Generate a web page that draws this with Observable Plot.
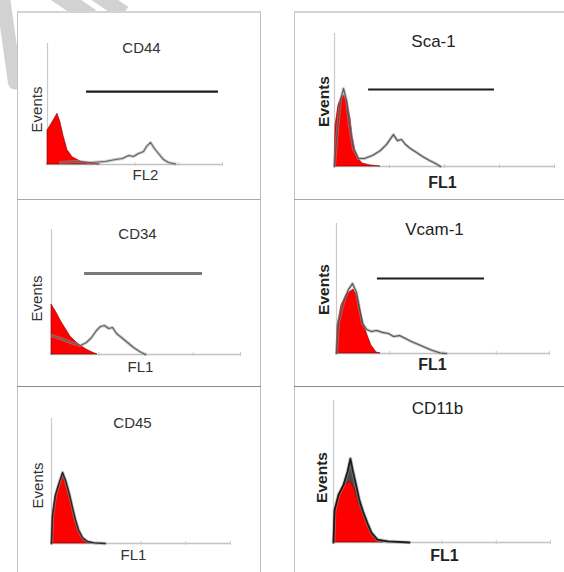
<!DOCTYPE html>
<html>
<head>
<meta charset="utf-8">
<script src="https://cdn.jsdelivr.net/npm/d3@7"></script>
<script src="https://cdn.jsdelivr.net/npm/@observablehq/plot@0.6"></script>
<style>
  html, body { margin: 0; padding: 0; background: #fff; }
  #root { position: relative; width: 564px; height: 572px; overflow: hidden; background: #fff;
          font-family: "Liberation Sans", Arial, sans-serif; }
  .box { position: absolute; box-sizing: border-box; }
  .wm { position: absolute; background: #d2d2d2; }
</style>
</head>
<body>
<div id="root"></div>
<script>
// ---------------- DATA ----------------
const markers  = ["CD44", "Sca-1", "CD34", "Vcam-1", "CD45", "CD11b"];
const channels = ["FL2", "FL1", "FL1", "FL1", "FL1", "FL1"];
const yLabel   = "Events";

// control (isotype) histograms – red filled
const cd44ControlX      = [0, 0, 2.9, 5.7, 7.4, 9.1, 11.4, 14.3, 18.9, 24.6, 30];
const cd44ControlCount  = [0, 28, 35, 42, 35, 24, 12, 6, 2.5, 1, 0];
const sca1ControlX      = [0, 0.5, 1.8, 3.2, 4.5, 5.9, 7.3, 8.2, 9.5, 10.9, 12.7, 16.4, 20.9];
const sca1ControlCount  = [0, 31, 46, 52, 53.4, 48, 36, 23, 12, 6, 2.3, 0.8, 0];
const cd34ControlX      = [0, 0, 2.6, 4.8, 7.4, 10, 12.7, 15.3, 18.5, 21.7, 24.3];
const cd34ControlCount  = [0, 40, 33.6, 27.2, 20.8, 14.4, 10.4, 7.2, 4, 1.6, 0];
const vcamControlX      = [0, 0.5, 2.3, 4.7, 8, 9.9, 11.3, 12.7, 14.6, 16.4, 18.8, 20.7];
const vcamControlCount  = [0, 21.5, 37, 45.4, 49.2, 43.8, 33, 23, 13.8, 6.2, 0.8, 0];
const cd45ControlX      = [0, 0.6, 2.2, 4.5, 6.7, 8.4, 10.1, 11.7, 13.4, 15.1, 17.3, 20.1, 22.9];
const cd45ControlCount  = [0, 22.4, 38.4, 48.8, 52.8, 47.2, 37.6, 28, 18.4, 10.4, 4, 0.8, 0];
const cd11bControlX     = [0, 0.5, 2.3, 4.6, 7.8, 9.7, 11.5, 13.8, 15.7, 17.5, 20.3, 23];
const cd11bControlCount = [0, 22.5, 33, 39.4, 43, 38, 28, 19.7, 12.7, 6, 1, 0];

// stained histograms – outline
const cd44StainedX      = [7.4, 16, 24.6, 33, 38.9, 42.9, 46.3, 49.1, 52, 54.9, 56.6, 58.9, 61.1, 63.4, 66.3, 69.1, 73.1];
const cd44StainedCount  = [1.7, 2.5, 1.7, 2.5, 4.1, 5, 7.4, 6.6, 9.1, 10.7, 14.9, 18.2, 13.2, 9.1, 4.1, 1.7, 0.4];
const sca1StainedX      = [0, 0.9, 2.7, 4.1, 5.5, 6.8, 8.6, 10.9, 13.6, 17.3, 20.9, 23.6, 25.5, 26.8, 28.6, 30.5, 32.3, 34.5, 37.3, 40, 43.2, 45.9, 48.2];
const sca1StainedCount  = [0, 19.5, 49.6, 58.6, 49.6, 30.8, 13.5, 6, 6, 8.3, 12, 16.5, 21, 24, 19.5, 20.3, 16.5, 13.5, 10.5, 7.5, 4.5, 2.3, 0];
const cd34StainedX      = [0, 4.8, 10, 15.3, 18.5, 21.2, 23.8, 25.9, 28, 30.2, 32.3, 34.4, 37, 40.2, 43.4, 46.6, 49.7];
const cd34StainedCount  = [15.2, 12.8, 9.6, 7.2, 9.6, 13.6, 19.2, 22.4, 23.2, 20.8, 21.6, 16.8, 13.6, 9.6, 5.6, 2.4, 0];
const vcamStainedX      = [0, 0.9, 3.3, 5.6, 7.5, 9.4, 10.8, 12.2, 14.1, 16.4, 18.8, 21.6, 24.4, 26.8, 29.6, 32.4, 35.2, 38.5, 41.8, 45.1, 48.8, 51.6];
const vcamStainedCount  = [0, 23.8, 39.2, 49.2, 53.8, 46.9, 34.6, 23.1, 18.5, 16.9, 17.7, 16.2, 15.4, 13.1, 13.8, 11.5, 9.2, 6.9, 4.6, 2.3, 0.4, 0];
const cd45StainedX      = [0, 0.6, 2.2, 4.5, 6.2, 8, 10.1, 11.7, 13.4, 15.1, 17.3, 20.1, 24, 30];
const cd45StainedCount  = [0, 22.4, 38.6, 49.5, 56.8, 50, 39, 29, 19, 11, 4.8, 1.6, 0.5, 0];
const cd11bStainedX     = [0, 0.5, 2.3, 4.6, 6.5, 7.8, 9, 10.5, 12, 13.8, 15.7, 17.5, 20.3, 25, 35];
const cd11bStainedCount = [0, 22.5, 33.5, 40.5, 50, 59, 50, 40, 29.5, 21, 13.5, 7, 2, 0.8, 0];

// positive gates (horizontal marker bars)
const gateStart = [22.3, 15.5, 17.5, 19.2, null, null];
const gateEnd   = [97.7, 72.7, 79.9, 69.5, null, null];
const gateLevel = [60.3, 57.9, 64.8, 57.7, null, null];

// decade ticks on the fluorescence axis
const decadeTicks = [25, 50, 75, 100];

// ---------------- LAYOUT / STYLE ----------------
const controlXs = [cd44ControlX, sca1ControlX, cd34ControlX, vcamControlX, cd45ControlX, cd11bControlX];
const controlYs = [cd44ControlCount, sca1ControlCount, cd34ControlCount, vcamControlCount, cd45ControlCount, cd11bControlCount];
const stainedXs = [cd44StainedX, sca1StainedX, cd34StainedX, vcamStainedX, cd45StainedX, cd11bStainedX];
const stainedYs = [cd44StainedCount, sca1StainedCount, cd34StainedCount, vcamStainedCount, cd45StainedCount, cd11bStainedCount];

const W = 564, H = 572;
// plot frame in page pixels: left, right, top, bottom(baseline)
const frames = [
  {l: 47,  r: 222, t: 43,  b: 164},
  {l: 334, r: 554, t: 33,  b: 166},
  {l: 51,  r: 240, t: 229, b: 354},
  {l: 336, r: 549, t: 223, b: 353},
  {l: 51,  r: 230, t: 418, b: 543},
  {l: 333, r: 550, t: 400, b: 542}
];
const titlePos = [[141, 48], [433, 41], [137, 234], [434, 229], [132, 423], [437, 408]];
const evPos    = [[37, 109], [324, 101], [37, 298], [324, 289], [38, 485], [322, 477]];
const chanPos  = [[145, 175], [442, 182], [140, 367], [432, 364], [133, 555], [444, 555]];
const rightCol = [false, true, false, true, false, true];
const gateColor = ["#1c1c1c", "#1c1c1c", "#7a7a7a", "#1c1c1c", null, null];
const gateWidth = [2.2, 2.2, 3.2, 2.2, 0, 0];
const stainedColor = ["#5a5a5a", "#4e4e4e", "#5a5a5a", "#4a4a4a", "#1e1e1e", "#111"];
const stainedWidth = [1.1, 1.2, 1.2, 1.2, 1.5, 1.8];
const darkTip = [false, false, false, false, true, true];

const root = document.getElementById("root");

function addDiv(cls, style) {
  const d = document.createElement("div");
  d.className = cls;
  Object.assign(d.style, style);
  root.appendChild(d);
}
// faint watermark strokes in the top-left corner (decoration)
addDiv("wm", {left: "2px", top: "-10px", width: "14px", height: "100px", transform: "rotate(-8deg)", borderRadius: "7px"});
addDiv("wm", {left: "62px", top: "-22px", width: "17px", height: "50px", transform: "rotate(-56deg)"});
addDiv("wm", {left: "98px", top: "-22px", width: "15px", height: "45px", transform: "rotate(-56deg)"});
// panel boxes
addDiv("box", {left: "17px", top: "11px", width: "244px", height: "600px", background: "#fff",
        borderLeft: "1.5px solid #c4c4c4", borderTop: "2px solid #d4d4d4", borderRight: "1.5px solid #bdbdbd"});
addDiv("box", {left: "294px", top: "11px", width: "300px", height: "600px", background: "#fff",
        borderLeft: "1.5px solid #c4c4c4", borderTop: "2px solid #d4d4d4"});
// row separators
[[199, "#a8a8a8"], [386, "#8a8a8a"]].forEach(([y, c]) => {
  addDiv("box", {left: "17px", top: y + "px", width: "244px", height: "0px", borderTop: "1.5px solid " + c});
  addDiv("box", {left: "294px", top: y + "px", width: "280px", height: "0px", borderTop: "1.5px solid " + c});
});

function panel(i) {
  const f = frames[i];
  const ctrl = controlXs[i].map((x, j) => ({x, y: controlYs[i][j]}));
  const st = stainedXs[i].map((x, j) => ({x, y: stainedYs[i][j]}));
  const rc = rightCol[i];
  const txtFill = rc ? "#222" : "#333";
  const label = (t, pos, opts) => Plot.text([t], {
    frameAnchor: "top-left", text: d => d, textAnchor: "middle", lineAnchor: "middle",
    dx: pos[0] - f.l, dy: pos[1] - f.t, fill: txtFill, ...opts});
  const marks = [
    Plot.ruleY([0], {x1: 0, x2: 100, stroke: "#c2c2c2", strokeWidth: 1.3}),
    Plot.ruleX([0], {y1: 0, y2: 100, stroke: "#cacaca", strokeWidth: 1.2}),
    Plot.ruleX(decadeTicks, {y1: -1.5, y2: 1.5, stroke: "#c8c8c8"}),
  ];
  if (darkTip[i]) {
    marks.push(Plot.areaY(st, {x: "x", y: "y", fill: "#2a2a2a", fillOpacity: 0.85}));
  }
  marks.push(
    Plot.areaY(ctrl, {x: "x", y: "y", fill: "#ff0000", stroke: "#7a0000", strokeWidth: 0.6}),
    Plot.lineY(st, {x: "x", y: "y", stroke: "#9a9a9a", strokeWidth: stainedWidth[i] + 1.8, strokeOpacity: 0.55}),
    Plot.lineY(st, {x: "x", y: "y", stroke: stainedColor[i], strokeWidth: stainedWidth[i], strokeOpacity: 0.9})
  );
  if (gateLevel[i] != null) {
    marks.push(Plot.ruleY([gateLevel[i]], {x1: gateStart[i], x2: gateEnd[i],
      stroke: gateColor[i], strokeWidth: gateWidth[i]}));
  }
  marks.push(
    label(markers[i], titlePos[i], {fontSize: rc ? 17 : 15}),
    label(yLabel, evPos[i], {rotate: -90, fontSize: rc ? 15.5 : 15, fontWeight: rc ? "bold" : "normal"}),
    label(channels[i], chanPos[i], {fontSize: rc ? 16 : 15, fontWeight: rc ? "bold" : "normal"})
  );
  const svg = Plot.plot({
    width: W, height: H,
    marginLeft: f.l, marginRight: W - f.r, marginTop: f.t, marginBottom: H - f.b,
    x: {domain: [0, 100], axis: null},
    y: {domain: [0, 100], axis: null},
    style: {background: "transparent", position: "absolute", left: "0px", top: "0px",
            overflow: "visible", fontFamily: "'Liberation Sans', Arial, sans-serif"},
    marks
  });
  root.appendChild(svg);
}
for (let i = 0; i < markers.length; i++) panel(i);
</script>
</body>
</html>
